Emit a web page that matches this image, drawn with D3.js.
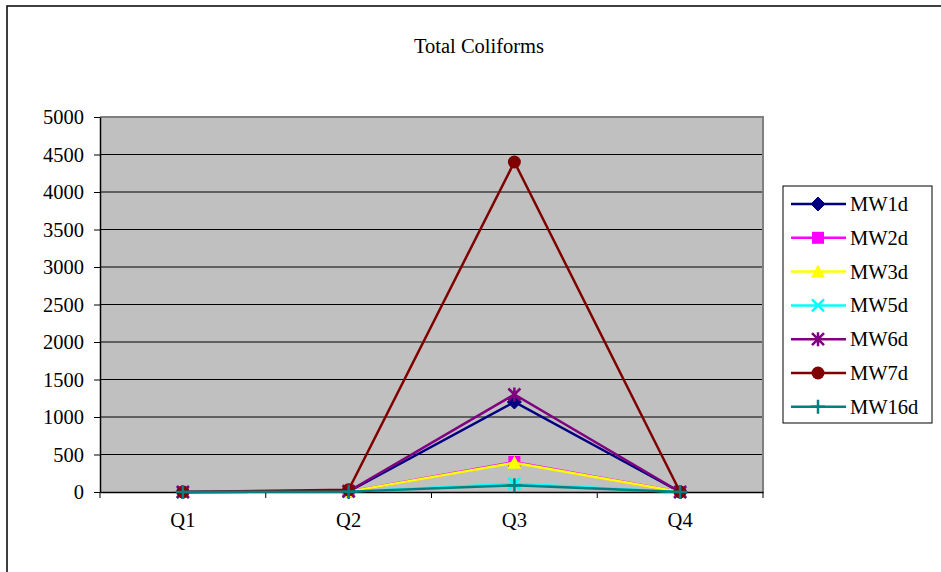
<!DOCTYPE html>
<html>
<head>
<meta charset="utf-8">
<script src="https://cdn.jsdelivr.net/npm/d3@7"></script>
<style>
  body { margin: 0; background: #fff; }
</style>
</head>
<body>
<div id="chart"></div>
<script>
var quarters = ['Q1', 'Q2', 'Q3', 'Q4']
var seriesNames = ['MW1d', 'MW2d', 'MW3d', 'MW5d', 'MW6d', 'MW7d', 'MW16d']
var mw1d = [0, 5, 1200, 0]
var mw2d = [0, 5, 400, 0]
var mw3d = [0, 5, 390, 0]
var mw5d = [0, 5, 110, 0]
var mw6d = [0, 10, 1300, 0]
var mw7d = [0, 30, 4400, 0]
var mw16d = [0, 5, 90, 0]
var yTicks = [0, 500, 1000, 1500, 2000, 2500, 3000, 3500, 4000, 4500, 5000]
var seriesColors = ['#000080', '#FF00FF', '#FFFF00', '#00FFFF', '#800080', '#800000', '#008080']
var seriesShapes = ['diamond', 'square', 'triangle', 'x', 'star', 'circle', 'plus']

var values = [mw1d, mw2d, mw3d, mw5d, mw6d, mw7d, mw16d]
var series = seriesNames.map(function (name, i) {
	return { name: name, color: seriesColors[i], shape: seriesShapes[i], values: values[i] }
})

var width = 941,
	height = 572
var plot = { left: 100, top: 117, right: 763, bottom: 492 }
var fontSize = 20.5
var serif = '"Liberation Serif", "Times New Roman", Times, serif'

var svg = d3.select('#chart').append('svg')
	.attr('width', width)
	.attr('height', height)

// outer frame (runs off the right and bottom edges)
svg.append('rect')
	.attr('x', 7).attr('y', 6)
	.attr('width', 960).attr('height', 600)
	.attr('fill', 'none')
	.attr('stroke', '#000')
	.attr('stroke-width', 1.5)

svg.append('text')
	.attr('x', 479).attr('y', 53)
	.attr('text-anchor', 'middle')
	.attr('font-size', fontSize)
	.text('Total Coliforms')

var x = d3.scaleBand()
	.domain(quarters)
	.range([plot.left, plot.right])

var y = d3.scaleLinear()
	.domain([0, 5000])
	.range([plot.bottom, plot.top])

// plot background
svg.append('rect')
	.attr('x', plot.left).attr('y', plot.top)
	.attr('width', plot.right - plot.left)
	.attr('height', plot.bottom - plot.top)
	.attr('fill', '#C0C0C0')

// gridlines
svg.append('g')
	.selectAll('line')
	.data(yTicks.filter(function (d) { return d > 0 && d < 5000 }))
	.enter().append('line')
	.attr('x1', plot.left).attr('x2', plot.right)
	.attr('y1', function (d) { return y(d) })
	.attr('y2', function (d) { return y(d) })
	.attr('stroke', '#000')
	.attr('stroke-width', 1)

// gray border top/right
svg.append('path')
	.attr('d', 'M' + plot.left + ',' + plot.top + 'H' + plot.right + 'V' + plot.bottom)
	.attr('fill', 'none')
	.attr('stroke', '#808080')
	.attr('stroke-width', 2)

// y axis
var yAxis = svg.append('g')
	.attr('transform', 'translate(' + plot.left + ',0)')
	.call(d3.axisLeft(y).tickValues(yTicks).tickFormat(d3.format('d'))
		.tickSize(6).tickPadding(10).tickSizeOuter(0))
yAxis.attr('font-size', fontSize)
yAxis.selectAll('text').attr('fill', '#000')
yAxis.select('.domain').attr('stroke', '#000').attr('stroke-width', 1.5)

// x axis
var xAxis = svg.append('g')
	.attr('transform', 'translate(0,' + plot.bottom + ')')
	.call(d3.axisBottom(x).tickSize(0).tickPadding(20).tickSizeOuter(0))
xAxis.attr('font-size', fontSize)
xAxis.selectAll('text').attr('fill', '#000')
xAxis.select('.domain').attr('stroke', '#000').attr('stroke-width', 1.5)
xAxis.selectAll('.sep')
	.data(x.domain().map(function (d) { return x(d) }).concat([plot.right]))
	.enter().append('line')
	.attr('class', 'sep')
	.attr('x1', function (d) { return d }).attr('x2', function (d) { return d })
	.attr('y1', 0).attr('y2', 6)
	.attr('stroke', '#000')

function cx(i) { return x(quarters[i]) + x.bandwidth() / 2 }

function drawMarker(g, shape, color, px, py) {
	var s = 6
	if (shape === 'diamond') {
		g.append('path').attr('d', 'M' + px + ',' + (py - s - 1) + 'L' + (px + s + 1) + ',' + py + 'L' + px + ',' + (py + s + 1) + 'L' + (px - s - 1) + ',' + py + 'Z')
			.attr('fill', color).attr('stroke', color)
	} else if (shape === 'square') {
		g.append('rect').attr('x', px - s).attr('y', py - s).attr('width', 2 * s).attr('height', 2 * s)
			.attr('fill', color)
	} else if (shape === 'triangle') {
		g.append('path').attr('d', 'M' + px + ',' + (py - s - 1) + 'L' + (px + s + 1) + ',' + (py + s) + 'L' + (px - s - 1) + ',' + (py + s) + 'Z')
			.attr('fill', color)
	} else if (shape === 'x') {
		g.append('path').attr('d', 'M' + (px - s) + ',' + (py - s) + 'L' + (px + s) + ',' + (py + s) + 'M' + (px + s) + ',' + (py - s) + 'L' + (px - s) + ',' + (py + s))
			.attr('stroke', color).attr('stroke-width', 2.5)
	} else if (shape === 'star') {
		g.append('path').attr('d', 'M' + (px - s) + ',' + (py - s) + 'L' + (px + s) + ',' + (py + s) + 'M' + (px + s) + ',' + (py - s) + 'L' + (px - s) + ',' + (py + s) + 'M' + px + ',' + (py - s - 1) + 'L' + px + ',' + (py + s + 1))
			.attr('stroke', color).attr('stroke-width', 2.5)
	} else if (shape === 'circle') {
		g.append('circle').attr('cx', px).attr('cy', py).attr('r', s + 0.5)
			.attr('fill', color)
	} else if (shape === 'plus') {
		g.append('path').attr('d', 'M' + (px - s - 1) + ',' + py + 'L' + (px + s + 1) + ',' + py + 'M' + px + ',' + (py - s - 1) + 'L' + px + ',' + (py + s + 1))
			.attr('stroke', color).attr('stroke-width', 2.5)
	}
}

var line = d3.line()
	.x(function (d, i) { return cx(i) })
	.y(function (d) { return y(d) })

series.forEach(function (s) {
	var g = svg.append('g')
	g.append('path')
		.datum(s.values)
		.attr('d', line)
		.attr('fill', 'none')
		.attr('stroke', s.color)
		.attr('stroke-width', 2.5)
	s.values.forEach(function (v, i) {
		drawMarker(g, s.shape, s.color, cx(i), y(v))
	})
})

// legend
var legend = svg.append('g')
legend.append('rect')
	.attr('x', 783).attr('y', 186)
	.attr('width', 149).attr('height', 237)
	.attr('fill', '#fff')
	.attr('stroke', '#000')
	.attr('stroke-width', 1)

series.forEach(function (s, i) {
	var ly = 204 + i * 33.8
	var g = legend.append('g')
	g.append('line')
		.attr('x1', 791).attr('x2', 846)
		.attr('y1', ly).attr('y2', ly)
		.attr('stroke', s.color)
		.attr('stroke-width', 2.5)
	drawMarker(g, s.shape, s.color, 818, ly)
	g.append('text')
		.attr('x', 850).attr('y', ly + 7)
		.attr('font-size', fontSize)
		.text(s.name)
})

// every label in the serif face
svg.selectAll('text')
	.attr('font-family', null)
	.style('font-family', serif)
svg.selectAll('g').attr('font-family', null)
</script>
</body>
</html>
